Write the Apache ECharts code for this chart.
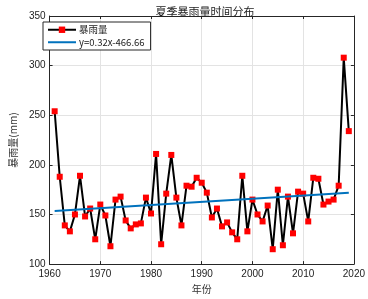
<!DOCTYPE html>
<html><head><meta charset="utf-8">
<script src="https://cdn.jsdelivr.net/npm/echarts@6/dist/echarts.min.js"></script>
<style>html,body{margin:0;padding:0;background:#fff}#c{width:368px;height:299px}</style>
</head><body><div id="c"></div>
<script>
const years = [];
for (let y = 1961; y <= 2019; y++) years.push(y);
const rainfall = [254,188,139,133,150,189,148,156,125,160,149,118,165,168,144,136,140,141,167,151,
  211,120,171,210,167,139,179,178,187,182,172,147,156,138,142,132,125,189,133,165,
  150,143,159,115,175,119,168,131,173,171,143,187,186,160,163,165,179,308,234];
const trendYears = [1961, 2019];
const trendValues = [153.5, 172];
const xTicks = [1960, 2020, 10];
const yTicks = [100, 350, 50];
const seriesNames = ['暴雨量', 'y=0.32x-466.66'];
const titleText = '夏季暴雨量时间分布';
const xName = '年份';
const yName = '暴雨量(mm)';

const font = 'Liberation Sans, Arial, sans-serif';
const cjk = '"Noto Sans CJK SC", sans-serif';
const axisCol = '#262626';

const chart = echarts.init(document.getElementById('c'), null, {renderer: 'canvas'});
chart.setOption({
  animation: false,
  backgroundColor: '#fff',
  title: {text: titleText, left: 200, textAlign: 'center', top: 1,
    textStyle: {fontFamily: cjk, fontSize: 11, fontWeight: 'normal', color: '#222'}},
  grid: {left: 36.5, right: 13.5, top: 16, bottom: 33, containLabel: false},
  legend: {
    left: 43, top: 22, orient: 'vertical',
    backgroundColor: '#fff', borderColor: axisCol, borderWidth: 1, borderRadius: 0,
    padding: [3, 6, 3, 4], itemGap: 3, itemWidth: 28, itemHeight: 8,
    textStyle: {fontSize: 9.5, fontFamily: cjk, color: '#222', padding: [0, 0, 0, -2]},
    data: [
      {name: seriesNames[0]},
      {name: seriesNames[1], itemStyle: {opacity: 0}}
    ]
  },
  xAxis: [{
    type: 'value', min: xTicks[0], max: xTicks[1], interval: xTicks[2],
    name: xName, nameLocation: 'middle', nameGap: 18,
    nameTextStyle: {fontFamily: cjk, fontSize: 10, color: '#333'},
    axisLine: {show: true, lineStyle: {color: axisCol}},
    axisTick: {inside: true, length: 3, lineStyle: {color: axisCol}},
    axisLabel: {fontFamily: font, fontSize: 10, color: '#222', margin: 5, formatter: v => String(v)},
    splitLine: {show: true, lineStyle: {color: '#e3e3e3'}}
  }, {
    type: 'value', position: 'top', min: xTicks[0], max: xTicks[1], interval: xTicks[2],
    axisLine: {show: true, lineStyle: {color: axisCol}},
    axisTick: {inside: true, length: 3, lineStyle: {color: axisCol}},
    axisLabel: {show: false}, splitLine: {show: false}
  }],
  yAxis: [{
    type: 'value', min: yTicks[0], max: yTicks[1], interval: yTicks[2],
    name: yName, nameLocation: 'middle', nameGap: 24,
    nameTextStyle: {fontFamily: cjk, fontSize: 10, color: '#333'},
    axisLine: {show: true, lineStyle: {color: axisCol}},
    axisTick: {show: true, inside: true, length: 3, lineStyle: {color: axisCol}},
    axisLabel: {fontFamily: font, fontSize: 10, color: '#222', margin: 4},
    splitLine: {show: true, lineStyle: {color: '#e3e3e3'}}
  }, {
    type: 'value', position: 'right', min: yTicks[0], max: yTicks[1], interval: yTicks[2],
    axisLine: {show: true, lineStyle: {color: axisCol}},
    axisTick: {show: true, inside: true, length: 3, lineStyle: {color: axisCol}},
    axisLabel: {show: false}, splitLine: {show: false}
  }],
  series: [{
    name: seriesNames[0], type: 'line',
    data: years.map((y, i) => [y, rainfall[i]]),
    lineStyle: {color: '#000', width: 2},
    itemStyle: {color: '#ff0000', borderWidth: 0},
    symbol: 'rect', symbolSize: 6, showSymbol: true, z: 3
  }, {
    name: seriesNames[1], type: 'line',
    data: trendYears.map((y, i) => [y, trendValues[i]]),
    lineStyle: {color: '#0072bd', width: 2},
    itemStyle: {color: '#0072bd'},
    symbol: 'none', showSymbol: false, z: 4
  }]
});
</script></body></html>
